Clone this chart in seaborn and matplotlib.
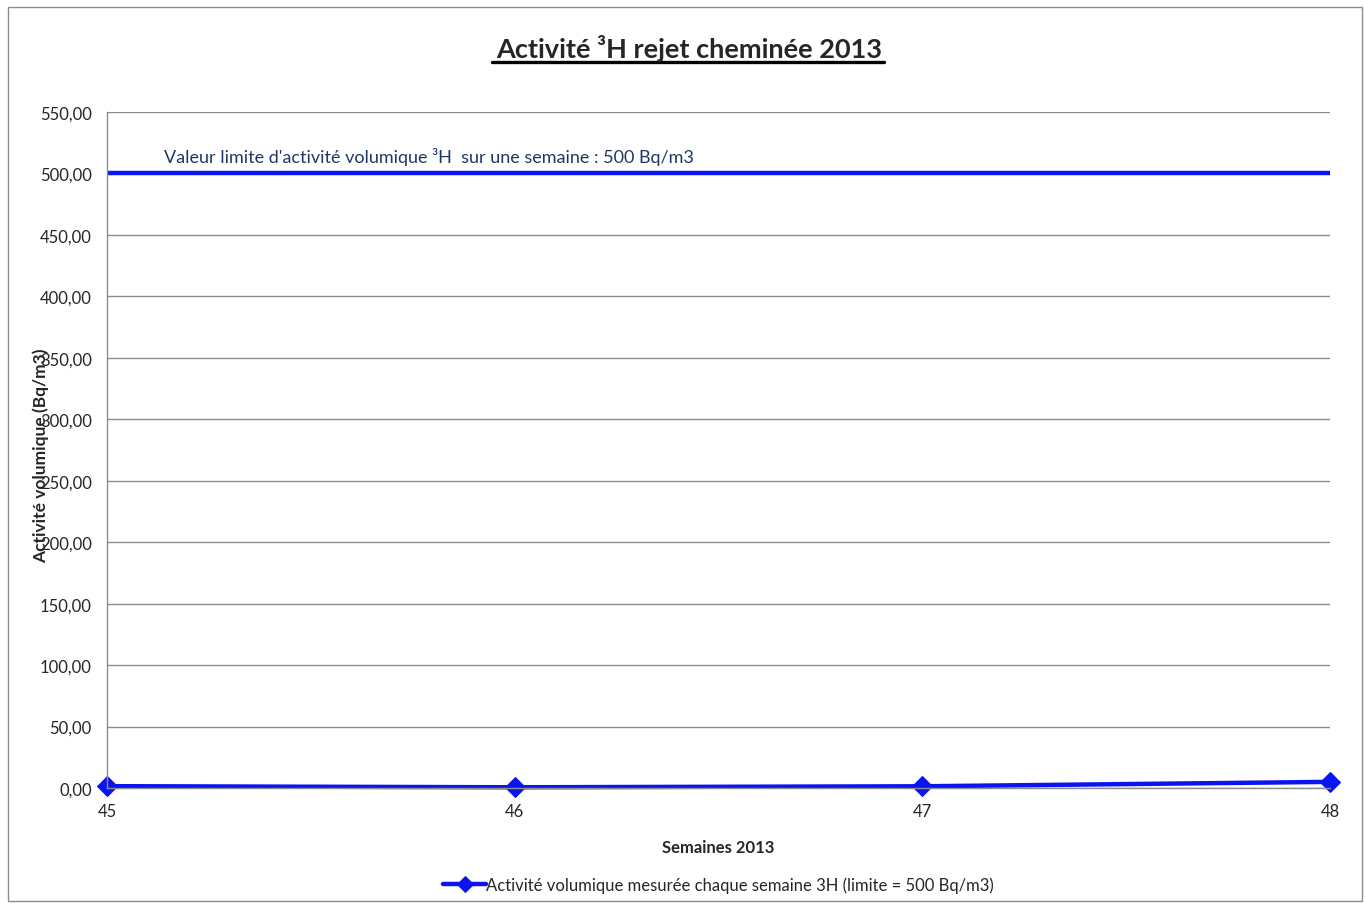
import matplotlib
matplotlib.use('Agg')
import matplotlib.pyplot as plt
import seaborn as sns
import pandas as pd
from matplotlib.patches import Rectangle

# data
semaines = [45, 46, 47, 48]
activite = [1.5, 0.6, 1.4, 5.0]
limite = [500, 500, 500, 500]
y_ticks = [0, 50, 100, 150, 200, 250, 300, 350, 400, 450, 500, 550]

sns.set_style('white')
plt.rcParams['font.family'] = ['Lato', 'DejaVu Sans']

df = pd.DataFrame({'Semaine': semaines, 'Activite': activite, 'Limite': limite})

fig = plt.figure(figsize=(13.65, 9.04), dpi=100)
ax = fig.add_axes([0.0784, 0.1272, 0.8960, 0.7478])

# limit line
sns.lineplot(data=df, x='Semaine', y='Limite', ax=ax, color='#0a14f0', linewidth=3.2)
# measured activity
sns.lineplot(data=df, x='Semaine', y='Activite', ax=ax, color='#0a14f0', linewidth=3.2,
             marker='D', markersize=10, markeredgecolor='#0a14f0', clip_on=False,
             label='Activité volumique mesurée chaque semaine 3H (limite = 500 Bq/m3)')

ax.set_xlim(45, 48)
ax.set_ylim(0, 550)
ax.set_xticks(semaines)
ax.set_xticklabels([str(s) for s in semaines], fontsize=12)
ax.set_yticks(y_ticks)
ax.set_yticklabels([f'{v:.2f}'.replace('.', ',') for v in y_ticks], fontsize=12)
ax.yaxis.grid(True, color='#8c8c8c', linewidth=1)
ax.xaxis.grid(False)
ax.tick_params(axis='both', length=5, color='#8c8c8c', direction='out', pad=6)
for s in ['top', 'right']:
    ax.spines[s].set_visible(False)
for s in ['left', 'bottom']:
    ax.spines[s].set_color('#8c8c8c')
    ax.spines[s].set_linewidth(1)

ax.set_xlabel('Semaines 2013', fontsize=12, fontweight='bold', labelpad=14)
ax.set_ylabel('')
fig.text(0.030, 0.4956, 'Activité volumique (Bq/m3)', rotation=90, fontsize=12.5,
         fontweight='bold', ha='center', va='center')

ax.text(0.047, 0.935, "Valeur limite d'activité volumique ³H  sur une semaine : 500 Bq/m3",
        transform=ax.transAxes, fontsize=13, color='#1f3864', va='center')

fig.text(0.505, 0.946, 'Activité ³H rejet cheminée 2013', fontsize=19.5,
         fontweight='bold', ha='center', va='center')
fig.add_artist(plt.Line2D([0.3605, 0.6476], [0.930, 0.930], color='black', linewidth=2.4,
                          transform=fig.transFigure))

leg = ax.legend(loc='center', bbox_to_anchor=(0.5, -0.143), frameon=False, fontsize=12,
                handlelength=2.6, handletextpad=0.0, markerscale=0.8)

fig.add_artist(Rectangle((0.006, 0.002), 0.992, 0.989, transform=fig.transFigure,
                         fill=False, edgecolor='#8c8c8c', linewidth=1))

fig.savefig('out.png', dpi=100)
